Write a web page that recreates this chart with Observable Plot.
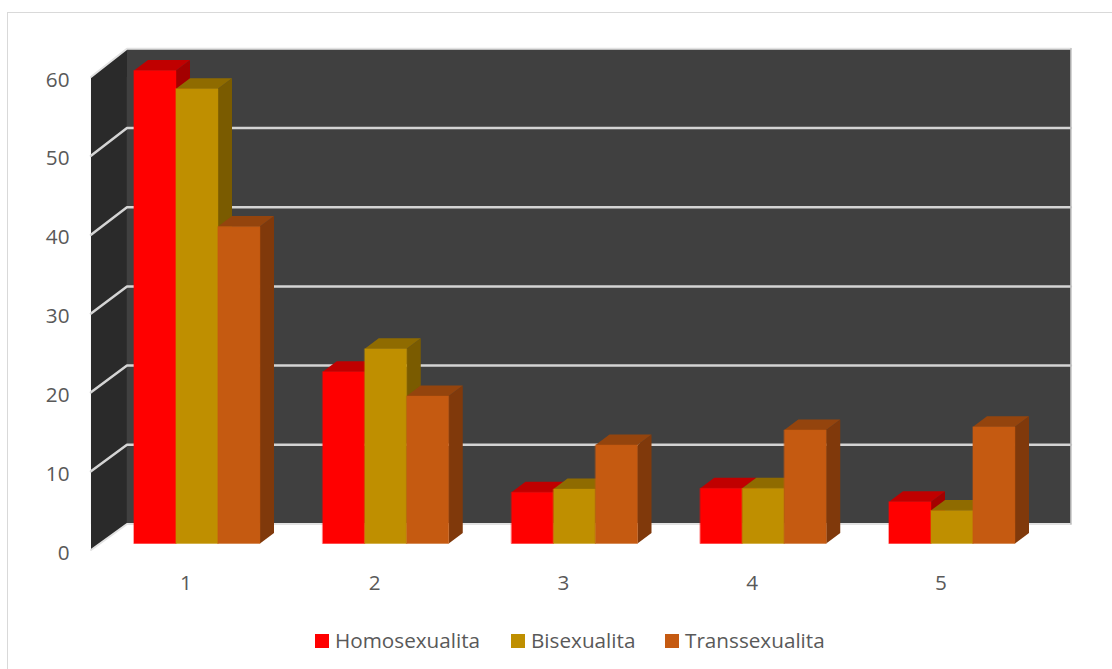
<!DOCTYPE html>
<html><head><meta charset="utf-8">
<script src="https://cdn.jsdelivr.net/npm/d3@7"></script>
<script src="https://cdn.jsdelivr.net/npm/@observablehq/plot@0.6"></script>
<style>
html,body{margin:0;padding:0;background:#fff;overflow:hidden;width:1112px;height:669px}
#frame{position:absolute;left:7px;top:12px;width:1300px;height:900px;border:1.5px solid #d9d9d9;box-sizing:border-box}
#chart{position:absolute;left:0;top:0}
#chart svg{display:block;background:transparent}
#legend{position:absolute;left:315px;top:625px;height:30px;font:20.7px "Open Sans",sans-serif;color:#595959;white-space:nowrap}
#legend span{position:absolute;top:0;line-height:30px}
#legend i{position:absolute;top:9px;width:14px;height:14px}
</style></head><body>
<div id="frame"></div><div id="chart"></div><div id="legend"></div>
<script>
const categories = [1, 2, 3, 4, 5];
const seriesNames = ["Homosexualita", "Bisexualita", "Transsexualita"];
const homosexualita = [60, 21.8, 6.5, 7.0, 5.3];
const bisexualita = [57.7, 24.7, 6.9, 7.0, 4.2];
const transsexualita = [40.2, 18.7, 12.5, 14.4, 14.8];
const yTicks = [0, 10, 20, 30, 40, 50, 60];
const frontColors = ["#ff0000", "#bf8f00", "#c55a11"];
const topColors = ["#c00000", "#8f6b00", "#94440d"];
const sideColors = ["#a30000", "#7a5b00", "#80390b"];

// Pseudo-3D depth expressed in scale units
const barW = 0.2225, barDX = 0.0742, barDY = 1.33;
const frontDX = -0.0477, frontDY = -0.825, backDX = 0.143, backDY = 2.47, backK = 1.0047;
const xMin = 0.486, xMax = 5.487, yMax = 60;

const allSeries = [homosexualita, bisexualita, transsexualita];
const polys = [];
const poly = (id, fill, pts) => pts.forEach(([x, y]) => polys.push({id, fill, x, y}));
const frontY = v => v + frontDY, backY = v => v * backK + backDY;
poly("leftWall", "#2a2a2a", [[xMin + frontDX, frontY(0)], [xMin + backDX, backY(0)], [xMin + backDX, backY(yMax)], [xMin + frontDX, frontY(yMax)]]);
poly("backWall", "#404040", [[xMin + backDX, backY(0)], [xMax + backDX, backY(0)], [xMax + backDX, backY(yMax)], [xMin + backDX, backY(yMax)]]);
const grid = [];
yTicks.forEach(t => {
  grid.push({t, x: xMin + frontDX, y: frontY(t)}, {t, x: xMin + backDX, y: backY(t)}, {t, x: xMax + backDX, y: backY(t)});
});
const edge = [{x: xMax + backDX, y: backY(0)}, {x: xMax + backDX, y: backY(yMax)}];

const barPolys = [], frontPolys = [];
const addPoly = (arr, id, fill, pts) => pts.forEach(([x, y]) => arr.push({id, fill, x, y}));
categories.forEach((c, i) => {
  allSeries.forEach((vals, s) => {
    const x1 = c - 1.5 * barW + s * barW, x2 = x1 + barW, v = vals[i];
    addPoly(barPolys, `side${i}-${s}`, sideColors[s], [[x2, 0], [x2 + barDX, barDY], [x2 + barDX, v + barDY], [x2, v]]);
    addPoly(barPolys, `top${i}-${s}`, topColors[s], [[x1, v], [x2, v], [x2 + barDX, v + barDY], [x1 + barDX, v + barDY]]);
    addPoly(frontPolys, `front${i}-${s}`, frontColors[s], [[x1, 0], [x2, 0], [x2, v], [x1, v]]);
  });
});

const plot = Plot.plot({
  width: 1112, height: 620,
  marginLeft: 91, marginRight: 0, marginTop: 0, marginBottom: 46,
  x: {type: "linear", domain: [1, 5], range: [196.5, 951.5]},
  y: {type: "linear", domain: [0, 60], range: [543, 70]},
  color: {type: "identity"},
  style: {background: "transparent", fontFamily: "'Open Sans',sans-serif", fontSize: "20.7px", color: "#595959", overflow: "visible"},
  marks: [
    Plot.line(polys, {x: "x", y: "y", z: "id", fill: "fill", stroke: "none", curve: "linear-closed"}),
    Plot.line(grid.filter(d => d.t === 0 || d.t === yMax), {x: "x", y: "y", z: "t", stroke: "#e2e2e2", strokeWidth: 2, curve: "linear"}),
    Plot.line(grid.filter(d => d.t > 0 && d.t < yMax), {x: "x", y: "y", z: "t", stroke: "#d4d4d4", strokeWidth: 2.5, curve: "linear"}),
    Plot.line(edge, {x: "x", y: "y", stroke: "#bdbdbd", strokeWidth: 1.5}),
    Plot.line(barPolys, {x: "x", y: "y", z: "id", fill: "fill", stroke: "none", curve: "linear-closed"}),
    Plot.line(frontPolys, {x: "x", y: "y", z: "id", fill: "fill", stroke: "fill", strokeWidth: 0.4, curve: "linear-closed"}),
    Plot.axisY({anchor: "left", ticks: yTicks, tickSize: 0, tickPadding: 22, dy: 9.5, label: null, fill: "#595959", fontSize: 20.7, tickFormat: d => String(d)}),
    Plot.axisX({anchor: "bottom", ticks: categories, tickSize: 0, tickPadding: 0, dx: -11, dy: 1, label: null, fill: "#595959", fontSize: 20.7, tickFormat: d => String(d)})
  ]
});
document.getElementById("chart").append(plot);

const legend = document.getElementById("legend");
const legendSwatchX = [0, 196, 350], legendTextX = [20, 216, 370];
seriesNames.forEach((n, i) => {
  const sw = document.createElement("i");
  sw.style.left = legendSwatchX[i] + "px"; sw.style.background = frontColors[i];
  const t = document.createElement("span");
  t.style.left = legendTextX[i] + "px"; t.textContent = n;
  legend.append(sw, t);
});
</script>
</body></html>
